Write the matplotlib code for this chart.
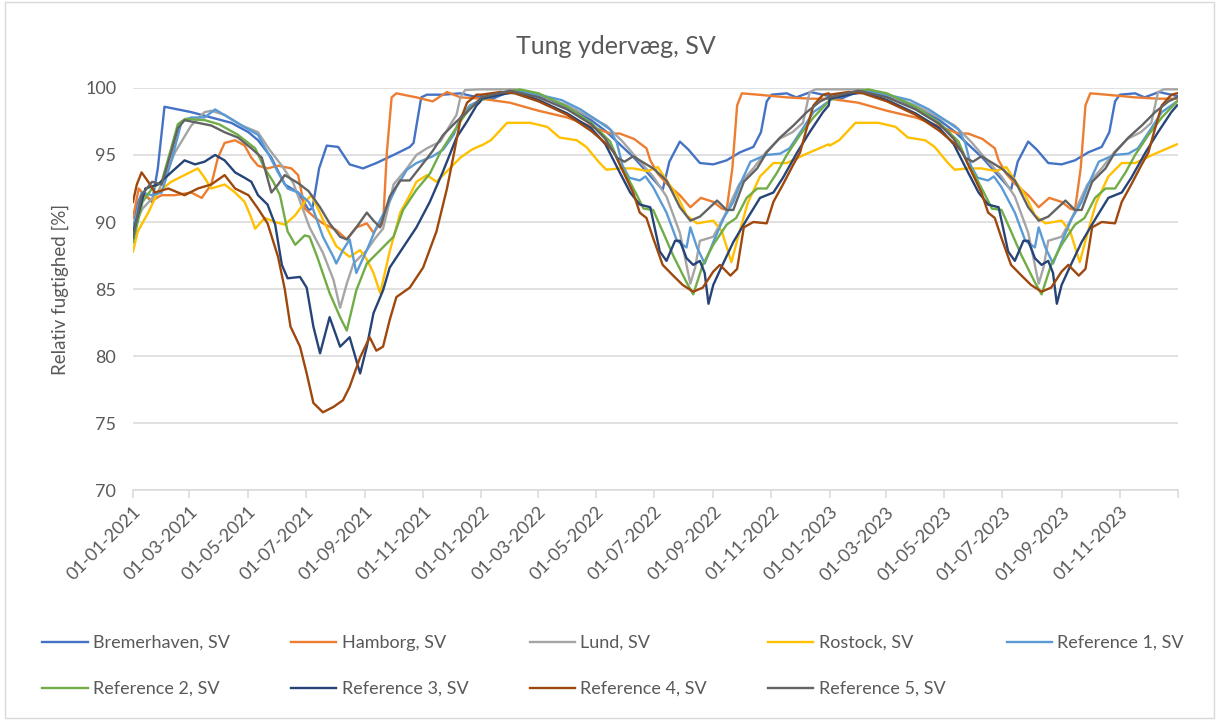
import numpy as np
import matplotlib.pyplot as plt
from matplotlib.patches import Rectangle

plt.rcParams['font.family'] = ['Lato', 'DejaVu Sans']

# (day of 2021, relative humidity %)
brem_2021 = [(0, 89.0), (4, 91.3), (10, 92.2), (20, 91.5), (26, 94.0), (33, 98.6), (47, 98.4), (61, 98.2),
             (82, 97.8), (103, 97.4), (121, 96.7), (131, 96.1), (145, 94.8), (159, 92.8), (173, 92.2),
             (184, 90.9), (188, 91.0), (195, 94.0), (203, 95.7), (215, 95.6), (227, 94.3), (241, 94.0),
             (255, 94.4), (273, 95.0), (290, 95.6), (294, 95.9), (302, 99.3), (308, 99.5), (325, 99.5),
             (343, 99.6), (355, 99.4), (364, 99.3)]
hamb_2021 = [(0, 90.3), (6, 92.5), (12, 92.0), (20, 91.6), (30, 92.0), (44, 92.0), (61, 92.2), (72, 91.8),
             (82, 92.8), (89, 94.8), (96, 95.9), (107, 96.1), (117, 95.7), (124, 94.8), (131, 94.2),
             (141, 94.0), (152, 94.2), (166, 94.0), (173, 93.5), (180, 91.0), (191, 90.3), (199, 89.9),
             (213, 89.4), (224, 88.7), (234, 89.6), (245, 89.9), (252, 89.2), (259, 89.9), (262, 89.8),
             (266, 95.2), (271, 99.3), (276, 99.6), (297, 99.3), (314, 99.0), (329, 99.7), (343, 99.3),
             (364, 99.2)]
lund_2021 = [(0, 89.5), (10, 91.0), (26, 92.2), (44, 95.2), (61, 97.2), (75, 98.2), (82, 98.3), (96, 98.0),
             (114, 97.2), (131, 96.7), (143, 95.4), (157, 94.1), (168, 92.9), (185, 89.6), (199, 87.7),
             (210, 85.7), (217, 83.6), (224, 85.4), (231, 86.9), (245, 87.9), (255, 88.9), (262, 89.5),
             (273, 92.8), (287, 94.0), (297, 95.0), (308, 95.5), (322, 96.0), (332, 97.2), (339, 98.0),
             (343, 99.3), (348, 99.85), (364, 99.9)]
rost_2021 = [(0, 87.8), (5, 89.3), (16, 90.7), (26, 92.2), (40, 93.0), (54, 93.5), (68, 94.0), (75, 93.3),
             (82, 92.5), (96, 92.8), (107, 92.2), (117, 91.5), (124, 90.3), (128, 89.5), (138, 90.3),
             (149, 90.0), (159, 89.8), (170, 90.5), (180, 91.5), (187, 92.0), (193, 91.1), (203, 89.6),
             (213, 88.2), (227, 87.4), (238, 87.9), (245, 87.2), (252, 86.2), (259, 84.7), (269, 87.8),
             (280, 90.7), (290, 92.0), (297, 93.0), (308, 93.5), (318, 93.0), (332, 94.0), (343, 94.8),
             (355, 95.4), (364, 95.7)]
ref1_2021 = [(0, 89.5), (9, 92.2), (20, 92.0), (30, 92.2), (40, 94.5), (51, 97.5), (61, 97.8), (75, 97.8),
             (86, 98.4), (100, 97.8), (114, 97.2), (131, 96.5), (141, 95.2), (152, 93.7), (162, 92.5),
             (173, 92.2), (184, 91.5), (189, 90.9), (199, 88.9), (210, 87.4), (213, 86.9), (220, 87.9),
             (227, 88.7), (234, 86.2), (245, 87.9), (255, 89.6), (266, 91.1), (276, 92.6), (287, 93.9),
             (297, 94.4), (314, 94.9), (325, 95.4), (336, 96.5), (343, 97.8), (353, 98.7), (364, 99.1)]
ref2_2021 = [(0, 88.5), (10, 91.5), (20, 92.5), (30, 93.0), (40, 95.5), (47, 97.3), (55, 97.7), (75, 97.6),
             (90, 97.3), (110, 96.5), (128, 95.5), (138, 94.0), (147, 93.0), (154, 92.0), (162, 89.3),
             (170, 88.3), (180, 89.0), (185, 88.9), (193, 87.4), (206, 84.7), (217, 82.9), (224, 81.9),
             (234, 84.9), (245, 86.9), (259, 87.9), (273, 88.9), (283, 90.9), (297, 92.4), (311, 93.6),
             (322, 95.2), (332, 96.3), (343, 97.5), (353, 98.5), (364, 99.1)]
ref3_2021 = [(0, 89.2), (13, 92.5), (26, 92.8), (40, 93.7), (54, 94.6), (65, 94.3), (75, 94.5), (86, 95.0),
             (96, 94.6), (107, 93.7), (117, 93.3), (124, 93.0), (131, 92.0), (141, 91.3), (149, 89.8),
             (156, 86.8), (162, 85.8), (175, 85.9), (182, 85.1), (189, 82.2), (196, 80.2), (206, 82.9),
             (217, 80.7), (227, 81.4), (238, 78.7), (245, 80.7), (252, 83.2), (262, 84.9), (269, 86.6),
             (283, 88.1), (297, 89.6), (311, 91.5), (325, 93.8), (339, 96.3), (350, 97.5), (360, 98.7),
             (364, 99.0)]
ref4_2021 = [(0, 91.5), (4, 92.8), (9, 93.7), (16, 93.0), (23, 92.2), (37, 92.5), (54, 92.0), (68, 92.5),
             (82, 92.8), (96, 93.5), (107, 92.5), (121, 92.0), (131, 91.0), (141, 89.9), (152, 87.4),
             (159, 85.0), (165, 82.2), (175, 80.7), (182, 78.7), (189, 76.5), (199, 75.8), (210, 76.2),
             (220, 76.7), (227, 77.7), (238, 79.9), (248, 81.4), (255, 80.4), (262, 80.7), (269, 82.7),
             (276, 84.4), (290, 85.1), (304, 86.6), (318, 89.3), (329, 92.5), (336, 95.0), (343, 97.6),
             (350, 98.9), (360, 99.5), (364, 99.5)]
ref5_2021 = [(0, 88.8), (9, 92.0), (20, 93.0), (30, 92.8), (40, 95.2), (47, 97.0), (54, 97.6), (68, 97.4),
             (82, 97.2), (96, 96.7), (110, 96.3), (124, 95.5), (135, 94.8), (145, 92.2), (152, 92.8),
             (159, 93.5), (173, 92.9), (184, 92.3), (196, 91.1), (206, 89.9), (217, 88.9), (224, 88.7),
             (234, 89.6), (245, 90.7), (252, 90.1), (259, 89.6), (269, 91.9), (280, 93.1), (290, 93.1),
             (301, 94.1), (314, 95.3), (325, 96.5), (339, 97.5), (350, 98.2), (364, 99.2)]

# one year of the cycle (day of year, %) - 2022 and 2023 look identical in the chart
brem_cycle = [(0, 99.4), (12, 99.2), (25, 99.6), (45, 99.7), (70, 99.2), (95, 98.4), (115, 97.6), (130, 96.8),
              (145, 95.8), (160, 94.8), (175, 93.6), (190, 92.4), (197, 94.5), (208, 96.0), (217, 95.4),
              (229, 94.4), (243, 94.3), (257, 94.6), (271, 95.2), (285, 95.6), (293, 96.7), (299, 99.0),
              (304, 99.5), (320, 99.6), (330, 99.3), (345, 99.7), (364, 99.4)]
hamb_cycle = [(0, 99.2), (30, 98.9), (60, 98.3), (90, 97.8), (120, 97.0), (135, 96.6), (145, 96.6),
              (160, 96.2), (173, 95.5), (177, 94.6), (185, 93.6), (195, 92.8), (208, 92.0), (219, 91.1),
              (230, 91.8), (243, 91.5), (252, 91.0), (257, 90.9), (263, 94.0), (268, 98.7), (273, 99.6),
              (290, 99.5), (320, 99.3), (345, 99.2), (364, 99.2)]
lund_cycle = [(0, 99.9), (35, 99.9), (60, 99.5), (90, 98.7), (115, 97.8), (131, 97.2), (148, 96.0),
              (160, 95.0), (170, 94.2), (180, 93.4), (194, 91.9), (208, 89.2), (219, 85.4), (224, 86.6),
              (229, 88.6), (243, 88.9), (255, 90.5), (270, 92.8), (285, 94.0), (298, 95.2), (312, 96.2),
              (326, 96.7), (337, 97.4), (344, 99.7), (350, 99.9), (364, 99.9)]
rost_cycle = [(0, 95.7), (10, 96.1), (27, 97.4), (51, 97.4), (69, 97.1), (82, 96.3), (100, 96.1),
              (110, 95.6), (124, 94.4), (131, 93.9), (145, 94.0), (159, 94.0), (174, 93.8), (185, 94.1),
              (195, 93.0), (205, 92.0), (215, 90.5), (226, 89.9), (243, 90.1), (252, 89.3), (262, 87.0),
              (268, 88.6), (279, 91.4), (292, 93.4), (306, 94.4), (320, 94.4), (341, 95.1), (364, 95.8)]
ref1_cycle = [(0, 99.1), (15, 99.5), (40, 99.8), (60, 99.5), (84, 99.1), (104, 98.4), (121, 97.6),
              (135, 96.9), (142, 95.9), (148, 94.2), (155, 93.3), (166, 93.1), (172, 93.4), (180, 92.6),
              (194, 90.7), (205, 88.6), (215, 88.1), (219, 89.6), (226, 88.1), (234, 86.9), (243, 88.5),
              (254, 90.3), (264, 91.5), (271, 92.8), (282, 94.5), (298, 95.0), (313, 95.1), (323, 95.5),
              (337, 97.0), (348, 98.2), (364, 99.0)]
ref2_cycle = [(0, 99.1), (20, 99.6), (40, 99.9), (60, 99.6), (90, 98.6), (115, 97.4), (135, 96.0),
              (145, 94.3), (152, 93.5), (163, 92.0), (170, 91.0), (180, 90.9), (190, 89.3), (201, 87.5),
              (215, 85.5), (222, 84.6), (232, 86.8), (243, 88.3), (257, 89.8), (267, 90.3), (278, 91.8),
              (289, 92.5), (299, 92.5), (310, 93.7), (320, 95.0), (334, 96.5), (348, 97.8), (364, 99.0)]
ref3_cycle = [(0, 99.2), (20, 99.5), (35, 99.7), (60, 99.1), (90, 98.1), (115, 97.0), (130, 95.8),
              (145, 93.7), (156, 92.2), (166, 91.3), (177, 91.1), (187, 87.8), (194, 87.1), (203, 88.6),
              (208, 88.6), (215, 87.3), (222, 86.8), (229, 87.1), (234, 86.2), (238, 83.9), (243, 85.3),
              (252, 86.7), (264, 88.5), (279, 90.3), (292, 91.8), (306, 92.2), (316, 93.3), (331, 95.2),
              (344, 96.7), (358, 98.2), (364, 98.7)]
ref4_cycle = [(0, 99.5), (20, 99.7), (35, 99.6), (60, 99.0), (90, 98.0), (115, 96.8), (130, 95.9),
              (139, 95.2), (149, 93.7), (159, 92.2), (166, 90.7), (173, 90.3), (180, 88.8), (190, 86.8),
              (201, 86.0), (211, 85.3), (222, 84.8), (232, 85.1), (243, 86.3), (250, 86.8), (261, 86.0),
              (268, 86.5), (275, 89.6), (285, 90.0), (299, 89.9), (306, 91.5), (316, 92.8), (327, 94.3),
              (334, 95.2), (341, 97.0), (348, 98.7), (358, 99.5), (364, 99.6)]
ref5_cycle = [(0, 99.3), (30, 99.8), (60, 99.3), (90, 98.4), (115, 97.3), (130, 96.2), (142, 94.8),
              (150, 94.5), (159, 94.9), (166, 94.6), (180, 94.0), (194, 93.1), (208, 91.1), (219, 90.1),
              (229, 90.4), (247, 91.6), (257, 90.9), (264, 90.9), (275, 93.0), (289, 94.0), (299, 95.2),
              (313, 96.3), (327, 97.2), (341, 98.2), (355, 99.0), (364, 99.3)]

labels = ['Bremerhaven, SV', 'Hamborg, SV', 'Lund, SV', 'Rostock, SV', 'Reference 1, SV',
          'Reference 2, SV', 'Reference 3, SV', 'Reference 4, SV', 'Reference 5, SV']
first_year = [brem_2021, hamb_2021, lund_2021, rost_2021, ref1_2021, ref2_2021, ref3_2021, ref4_2021, ref5_2021]
cycles = [brem_cycle, hamb_cycle, lund_cycle, rost_cycle, ref1_cycle, ref2_cycle, ref3_cycle, ref4_cycle, ref5_cycle]
colors = ['#4472C4', '#ED7D31', '#A5A5A5', '#FFC000', '#5B9BD5', '#70AD47', '#264478', '#9E480E', '#636363']

start = np.datetime64('2021-01-01')
tick_dates = np.array(['2021-01-01', '2021-03-01', '2021-05-01', '2021-07-01', '2021-09-01', '2021-11-01',
                       '2022-01-01', '2022-03-01', '2022-05-01', '2022-07-01', '2022-09-01', '2022-11-01',
                       '2023-01-01', '2023-03-01', '2023-05-01', '2023-07-01', '2023-09-01', '2023-11-01',
                       '2024-01-01'], dtype='datetime64[D]')


def build(year1, cycle):
    days = [d for d, v in year1] + [d + 365 for d, v in cycle] + [d + 730 for d, v in cycle]
    vals = [v for d, v in year1] + [v for d, v in cycle] + [v for d, v in cycle]
    return start + np.array(days, dtype='timedelta64[D]'), np.array(vals)


def main():
    txt = '#595959'
    fig = plt.figure(figsize=(12.19, 7.2), dpi=100)
    ax = fig.add_axes([0.1091, 0.3194, 0.8573, 0.5584])

    for y1, cyc, lab, col in zip(first_year, cycles, labels, colors):
        x, y = build(y1, cyc)
        ax.plot(x, y, color=col, lw=1.7, label=lab)

    ax.set_ylim(70, 100)
    ax.set_yticks(range(70, 101, 5))
    ax.set_xlim(tick_dates[0], tick_dates[-1])
    ax.set_xticks(tick_dates)
    ax.set_xticklabels([str(d)[8:10] + '-' + str(d)[5:7] + '-' + str(d)[0:4] for d in tick_dates[:-1]] + [''],
                       rotation=45, ha='right', rotation_mode='anchor')
    ax.grid(axis='y', color='#D9D9D9', lw=1.1)
    ax.set_axisbelow(True)
    for s in ['top', 'right', 'left']:
        ax.spines[s].set_visible(False)
    ax.spines['bottom'].set_color('#D9D9D9')
    ax.spines['bottom'].set_linewidth(1.1)
    ax.tick_params(axis='y', length=0, pad=12, labelsize=13, labelcolor=txt)
    ax.tick_params(axis='x', length=6, width=1.1, color='#D9D9D9', pad=4, labelsize=13, labelcolor=txt)

    ax.set_ylabel('Relativ fugtighed [%]', fontsize=13.5, color=txt, labelpad=12)
    fig.text(0.505, 0.935, 'Tung ydervæg, SV', ha='center', va='center', fontsize=18, color=txt)

    handles, labs = ax.get_legend_handles_labels()
    order = [0, 5, 1, 6, 2, 7, 3, 8, 4]
    fig.legend([handles[i] for i in order], [labs[i] for i in order], ncol=5, frameon=False,
               loc='center', bbox_to_anchor=(0.503, 0.075), fontsize=13, labelcolor=txt,
               handlelength=2.5, handletextpad=0.3, columnspacing=3.4, labelspacing=1.65)

    fig.patches.append(Rectangle((0.004, 0.003), 0.992, 0.994, transform=fig.transFigure,
                                 fill=False, edgecolor='#D9D9D9', lw=1))
    fig.savefig('out.png', dpi=100)


if __name__ == '__main__':
    main()
